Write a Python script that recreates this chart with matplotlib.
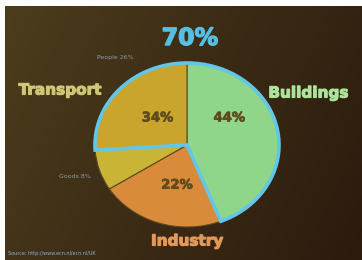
import numpy as np
import matplotlib
matplotlib.use("Agg")
import matplotlib.pyplot as plt
from matplotlib.patches import Wedge
from matplotlib.colors import LinearSegmentedColormap
import matplotlib.patheffects as pe

# ---- data ----
sectors = ["Buildings", "Industry", "Goods", "People"]
shares = [44, 22, 8, 26]
slice_colors = ["#8fd68a", "#d98a3a", "#c9b436", "#c9a52e"]
pct_labels = ["44%", "22%", "34%"]
highlight_total = "70%"
sub_labels = ["People 26%", "Goods 8%"]
group_labels = ["Transport", "Buildings", "Industry"]
source_text = "Source: http://www.ecn.nl/ecn.nl/UK"

W, H = 362, 260
fig = plt.figure(figsize=(W / 100, H / 100), dpi=100, facecolor="white")

def px(x, y):
    return x / W, 1 - y / H

def bold_fx(color, w=0.8):
    return [pe.withStroke(linewidth=w, foreground=color)]

# background (photo of slide): dark brown gradient
bg = fig.add_axes([5 / W, 0, (W - 5) / W, (H - 6) / H])
cmap = LinearSegmentedColormap.from_list("bg", ["#4c3d1d", "#3b2b15", "#2b1b0e"])
xx, yy = np.meshgrid(np.linspace(0, 1, 200), np.linspace(0, 1, 150))
grad = 0.75 * xx + 0.25 * yy
bg.imshow(grad, cmap=cmap, aspect="auto", extent=(0, 1, 0, 1), origin="upper")
bg.set_axis_off()

# pie axes (slightly elliptical, as in the photo)
left, right, top, bottom = 95, 279, 63, 227
pa = fig.add_axes([left / W, (H - bottom) / H, (right - left) / W, (bottom - top) / H])
wedges, _ = pa.pie(shares, colors=slice_colors, startangle=90, counterclock=False,
                   radius=1.0,
                   wedgeprops=dict(edgecolor="#5a4a22", linewidth=0.8))
pa.set_aspect("auto")
pa.set_xlim(-1, 1)
pa.set_ylim(-1, 1)
pa.set_axis_off()

# cyan outline around Buildings + People (70%)
b = wedges[0]
p = wedges[3]
outline = Wedge((0, 0), 1.0, b.theta1, p.theta2, fill=False,
                edgecolor="#62c6e8", linewidth=2.6, joinstyle="miter")
outline.set_clip_on(False)
pa.add_patch(outline)

# percentage labels inside
pct_pos = [(0.46, 0.33), (-0.11, -0.49), (-0.32, 0.33)]
for (x, y), t in zip(pct_pos, pct_labels):
    pa.text(x, y, t, ha="center", va="center", fontsize=9.5, fontweight="bold",
            color="#5e4c1e", path_effects=bold_fx("#5e4c1e", 0.5))

# texts
fig.text(*px(190, 38), highlight_total, ha="center", va="center", fontsize=17,
         fontweight="bold", color="#58bee2", path_effects=bold_fx("#58bee2", 1.0))
fig.text(*px(60, 90), group_labels[0], ha="center", va="center", fontsize=11,
         fontweight="bold", color="#cfc676", path_effects=bold_fx("#cfc676", 0.8))
fig.text(*px(308, 93), group_labels[1], ha="center", va="center", fontsize=11,
         fontweight="bold", color="#ade39a", path_effects=bold_fx("#ade39a", 0.8))
fig.text(*px(187, 241), group_labels[2], ha="center", va="center", fontsize=11,
         fontweight="bold", color="#e0995a", path_effects=bold_fx("#e0995a", 0.8))
fig.text(*px(115, 58), sub_labels[0], ha="center", va="center", fontsize=4.5,
         color="#8a9ab0")
fig.text(*px(75, 177), sub_labels[1], ha="center", va="center", fontsize=4.5,
         color="#8a9ab0")
fig.text(*px(8, 254), source_text, ha="left", va="center", fontsize=3.5,
         color="#8ab0d0")

fig.savefig("out.png", dpi=100, facecolor="white")
